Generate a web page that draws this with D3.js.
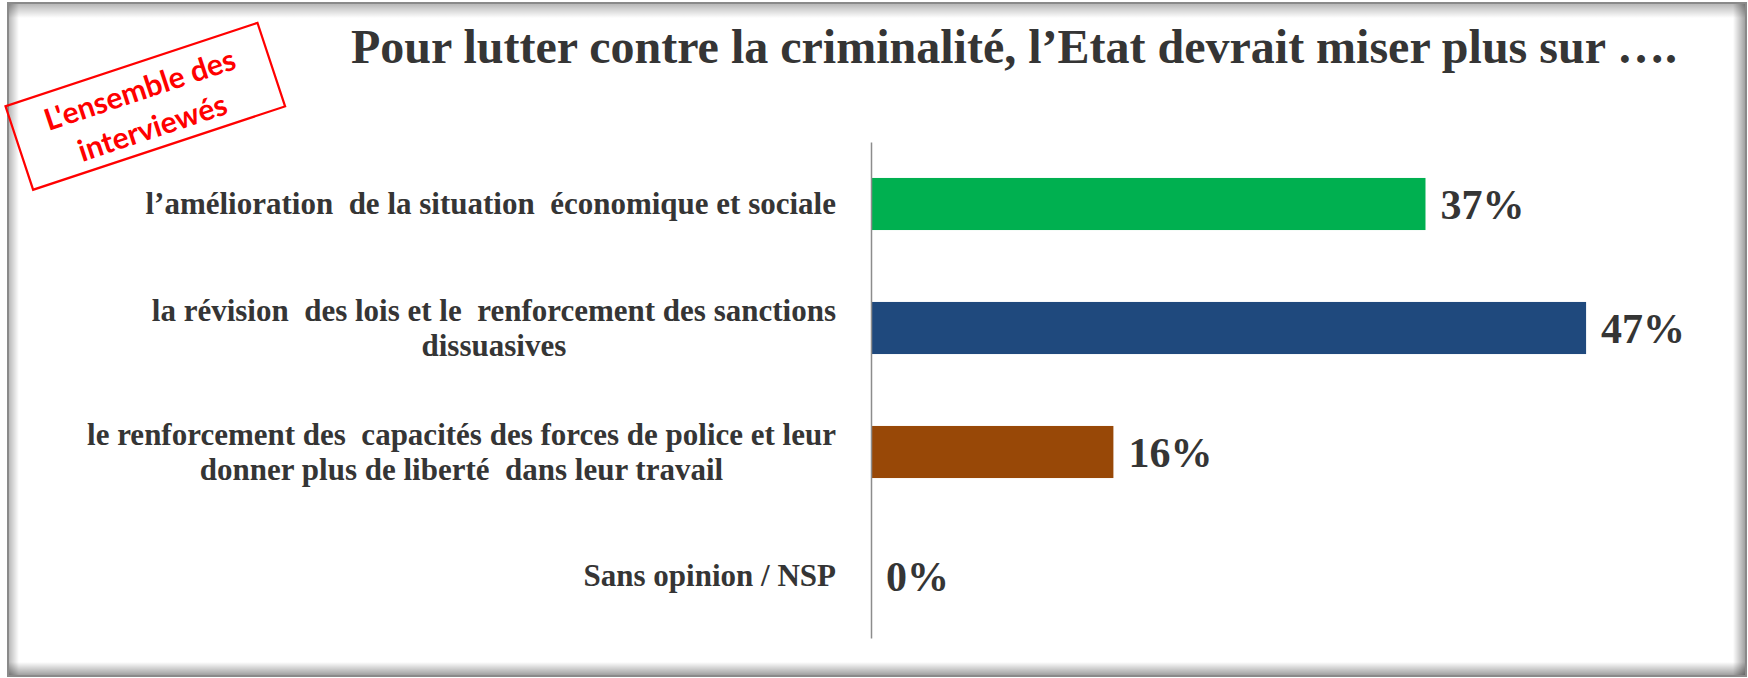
<!DOCTYPE html>
<html>
<head>
<meta charset="utf-8">
<script src="https://cdn.jsdelivr.net/npm/d3@7"></script>
<style>
  html, body { margin: 0; padding: 0; background: #fff; }
  svg { display: block; }
  text { white-space: pre; }
</style>
</head>
<body>
<svg id="chart" width="1748" height="678"></svg>
<script>
// ---- data ----
const title = "Pour lutter contre la criminalité, l’Etat devrait miser plus sur ….";
const stampLines = ["L'ensemble des", "interviewés"];
const categories = ["c1", "c2", "c3", "c4"];
const categoryLines = [
  ["l’amélioration  de la situation  économique et sociale"],
  ["la révision  des lois et le  renforcement des sanctions", "dissuasives"],
  ["le renforcement des  capacités des forces de police et leur", "donner plus de liberté  dans leur travail"],
  ["Sans opinion / NSP"]
];
const values = [36.6, 47.2, 16.0, 0];
const barColors = ["#00B050", "#1F497D", "#984807", "#7F7F7F"];

// ---- drawing ----
const W = 1748, H = 678;
const svg = d3.select("#chart");
const defs = svg.append("defs");

// frame with inset shadow
function grad(id, x1, y1, x2, y2, o1, o2) {
  const g = defs.append("linearGradient").attr("id", id)
    .attr("x1", x1).attr("y1", y1).attr("x2", x2).attr("y2", y2);
  g.append("stop").attr("offset", "0%").attr("stop-color", "#000").attr("stop-opacity", o1);
  g.append("stop").attr("offset", "100%").attr("stop-color", "#000").attr("stop-opacity", o2);
}
grad("gl", "0", "0", "1", "0", 0.3, 0);
grad("gt", "0", "0", "0", "1", 0.3, 0);
grad("gr", "0", "0", "1", "0", 0, 0.4);
grad("gb", "0", "0", "0", "1", 0, 0.4);

const fx0 = 8, fy0 = 3, fx1 = 1746, fy1 = 676;
svg.append("rect").attr("x", fx0).attr("y", fy0).attr("width", fx1 - fx0).attr("height", fy1 - fy0)
  .attr("fill", "#fff");
svg.append("rect").attr("x", fx0).attr("y", fy0).attr("width", 11).attr("height", fy1 - fy0).attr("fill", "url(#gl)");
svg.append("rect").attr("x", fx0).attr("y", fy0).attr("width", fx1 - fx0).attr("height", 15).attr("fill", "url(#gt)");
svg.append("rect").attr("x", fx1 - 13).attr("y", fy0).attr("width", 13).attr("height", fy1 - fy0).attr("fill", "url(#gr)");
svg.append("rect").attr("x", fx0).attr("y", fy1 - 14).attr("width", fx1 - fx0).attr("height", 14).attr("fill", "url(#gb)");
svg.append("rect").attr("x", fx0).attr("y", fy0).attr("width", fx1 - fx0).attr("height", fy1 - fy0)
  .attr("fill", "none").attr("stroke", "#8a8a8a").attr("stroke-width", 2);

// title
svg.append("text").attr("x", 351).attr("y", 63)
  .attr("font-family", "'Liberation Serif', 'Times New Roman', serif")
  .attr("font-weight", "bold").attr("font-size", 48).attr("fill", "#353535")
  .text(title);

// stamp
const stamp = svg.append("g").attr("transform", "translate(145.3,106.3) rotate(-18.3)");
stamp.append("rect").attr("x", -132.7).attr("y", -44).attr("width", 265.4).attr("height", 88)
  .attr("fill", "none").attr("stroke", "#FF0000").attr("stroke-width", 2.2);
stamp.selectAll("text.st").data(stampLines).join("text").attr("class", "st")
  .attr("x", 0).attr("y", (d, i) => i === 0 ? -7 : 33)
  .attr("text-anchor", "middle")
  .attr("font-family", "Lato, 'Open Sans', sans-serif")
  .attr("font-weight", "bold").attr("font-size", 30).attr("fill", "#FF0000")
  .text(d => d);

// scales
const y = d3.scaleBand().domain(categories).range([142, 638]).paddingInner(0.58).paddingOuter(0.29);
const x = d3.scaleLinear().domain([0, 50]).range([871, 871 + 757.5]);

// bars
svg.selectAll("rect.bar").data(values).join("rect").attr("class", "bar")
  .attr("x", x(0))
  .attr("y", (d, i) => y(categories[i]))
  .attr("width", d => x(d) - x(0))
  .attr("height", y.bandwidth())
  .attr("fill", (d, i) => barColors[i]);

// axis
const axisG = svg.append("g").attr("transform", `translate(${x(0)},0)`)
  .call(d3.axisLeft(y).tickSize(0).tickSizeOuter(0).tickFormat(""));
axisG.select(".domain").attr("stroke", "#8c8c8c").attr("stroke-width", 1.5);
axisG.selectAll(".tick").remove();

// value labels
svg.selectAll("text.val").data(values).join("text").attr("class", "val")
  .attr("x", d => x(d) + 15)
  .attr("y", (d, i) => y(categories[i]) + y.bandwidth() / 2 + 15)
  .attr("font-family", "'Liberation Serif', 'Times New Roman', serif")
  .attr("font-weight", "bold").attr("font-size", 42).attr("fill", "#353535")
  .text(d => Math.round(d) + "%");

// category labels (block right-aligned, lines centered)
const rightEdge = 836, lineH = 35;
categories.forEach((c, i) => {
  const lines = categoryLines[i];
  const cy = y(c) + y.bandwidth() / 2;
  const t = svg.append("text")
    .attr("font-family", "'Liberation Serif', 'Times New Roman', serif")
    .attr("font-weight", "bold").attr("font-size", 31).attr("fill", "#353535")
    .attr("text-anchor", "middle");
  const spans = lines.map((ln, j) => t.append("tspan")
    .attr("y", cy + 10 + (j - (lines.length - 1) / 2) * lineH).text(ln));
  const maxW = d3.max(spans, s => s.node().getComputedTextLength());
  spans.forEach(s => s.attr("x", rightEdge - maxW / 2));
});
</script>
</body>
</html>
